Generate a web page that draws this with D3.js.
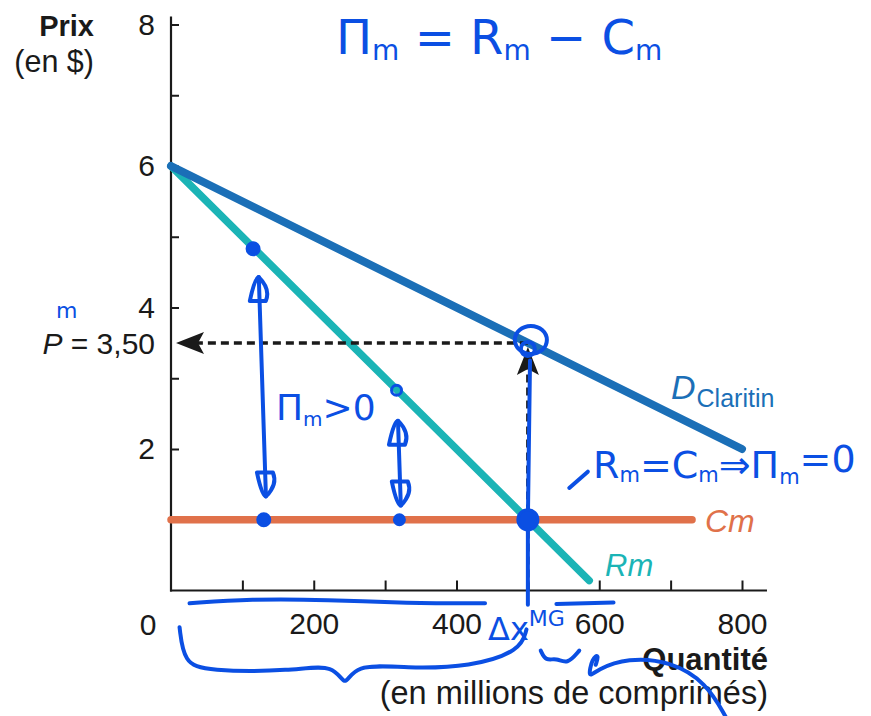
<!DOCTYPE html>
<html>
<head>
<meta charset="utf-8">
<script src="https://cdn.jsdelivr.net/npm/d3@7"></script>
<style>
  html, body { margin: 0; padding: 0; background: #fff; }
  svg { display: block; }
  text { font-family: "Liberation Sans", Arial, Helvetica, sans-serif; }
</style>
</head>
<body>
<svg id="chart" width="871" height="716"></svg>
<script>
// ---- Data ----
const priceTicks = [1, 2, 3, 4, 5, 6, 7, 8];
const priceTickLabels = [2, 4, 6, 8];
const qtyTicks = [100, 200, 300, 400, 500, 600, 700, 800];
const qtyTickLabels = [200, 400, 600, 800];
const demand = [{ q: 0, p: 6 }, { q: 800, p: 2 }];           // D Claritin
const marginalRevenue = [{ q: 0, p: 6 }, { q: 586, p: 0.14 }]; // Rm
const marginalCost = [{ q: 0, p: 1 }, { q: 730, p: 1 }];       // Cm
const monopolyQ = 500;
const monopolyP = 3.5;

// ---- Setup ----
const svg = d3.select("#chart");
const x = d3.scaleLinear().domain([0, 800]).range([171, 742]);
const y = d3.scaleLinear().domain([0, 8]).range([590.5, 24.5]);
const blue = "#0b4fe3";

// Axes
const yAxis = d3.axisLeft(y).tickValues(priceTicks).tickSize(-8).tickPadding(16)
  .tickFormat(d => priceTickLabels.includes(d) ? d : "");
const gy = svg.append("g").attr("transform", `translate(${x(0)},0)`).call(yAxis);
gy.select(".domain").remove();
gy.selectAll(".tick line").attr("stroke", "#1a1a1a").attr("stroke-width", 2);
gy.selectAll(".tick text").attr("font-size", 30).attr("fill", "#1a1a1a")
  .style("font-family", '"Liberation Sans", Arial, sans-serif');

const xAxis = d3.axisBottom(x).tickValues(qtyTicks).tickSize(-10).tickPadding(22)
  .tickFormat(d => qtyTickLabels.includes(d) ? d : "");
const gx = svg.append("g").attr("transform", `translate(0,${y(0)})`).call(xAxis);
gx.select(".domain").remove();
gx.selectAll(".tick line").attr("stroke", "#1a1a1a").attr("stroke-width", 2);
gx.selectAll(".tick text").attr("font-size", 30).attr("fill", "#1a1a1a")
  .style("font-family", '"Liberation Sans", Arial, sans-serif');

// Axis lines
svg.append("line").attr("x1", x(0)).attr("x2", x(0)).attr("y1", y(0) + 1).attr("y2", y(8) - 8)
  .attr("stroke", "#1a1a1a").attr("stroke-width", 2.2);
svg.append("line").attr("x1", x(0) - 1).attr("x2", x(835)).attr("y1", y(0)).attr("y2", y(0))
  .attr("stroke", "#1a1a1a").attr("stroke-width", 2.2);

// Origin label
svg.append("text").attr("x", x(0) - 23).attr("y", y(0) + 44).attr("text-anchor", "middle")
  .attr("font-size", 30).attr("fill", "#1a1a1a").text("0");

// Axis titles
svg.append("text").attr("x", 94).attr("y", 36).attr("text-anchor", "end")
  .attr("font-size", 29).attr("font-weight", "bold").attr("fill", "#1a1a1a").text("Prix");
svg.append("text").attr("x", 94).attr("y", 72).attr("text-anchor", "end")
  .attr("font-size", 30.5).attr("fill", "#1a1a1a").text("(en $)");
svg.append("text").attr("x", 768).attr("y", 670).attr("text-anchor", "end")
  .attr("font-size", 31).attr("font-weight", "bold").attr("fill", "#1a1a1a").text("Quantité");
svg.append("text").attr("x", 768).attr("y", 704).attr("text-anchor", "end")
  .attr("font-size", 32.5).attr("fill", "#1a1a1a").text("(en millions de comprimés)");

// P = 3,50 label
const pl = svg.append("text").attr("x", 155).attr("y", y(monopolyP) + 11).attr("text-anchor", "end")
  .attr("font-size", 30).attr("fill", "#1a1a1a");
pl.append("tspan").attr("font-style", "italic").text("P");
pl.append("tspan").text(" = 3,50");

// ---- Curves ----
const line = d3.line().x(d => x(d.q)).y(d => y(d.p));
svg.append("path").datum(marginalCost).attr("d", line).attr("fill", "none")
  .attr("stroke", "#e0714a").attr("stroke-width", 7.5).attr("stroke-linecap", "round");
svg.append("path").datum(marginalRevenue).attr("d", line).attr("fill", "none")
  .attr("stroke", "#1bb4b6").attr("stroke-width", 7.5).attr("stroke-linecap", "round");
svg.append("path").datum(demand).attr("d", line).attr("fill", "none")
  .attr("stroke", "#1b6fb7").attr("stroke-width", 8).attr("stroke-linecap", "round");

// Curve labels
const dl = svg.append("text").attr("x", 671).attr("y", 399).attr("fill", "#1b6fb7");
dl.append("tspan").attr("font-size", 34).attr("font-style", "italic").text("D");
dl.append("tspan").attr("font-size", 25).attr("dy", 8).attr("dx", 1).text("Claritin");
svg.append("text").attr("x", 705).attr("y", 532).attr("font-size", 32).attr("font-style", "italic")
  .attr("fill", "#e0714a").text("Cm");
svg.append("text").attr("x", 605).attr("y", 576).attr("font-size", 31).attr("font-style", "italic")
  .attr("fill", "#1bb4b6").text("Rm");

// ---- Dashed guides with arrows ----
const dashColor = "#1a1a1a";
svg.append("line").attr("x1", x(monopolyQ)).attr("x2", x(0) + 26).attr("y1", y(monopolyP)).attr("y2", y(monopolyP))
  .attr("stroke", dashColor).attr("stroke-width", 3.5).attr("stroke-dasharray", "8,5");
svg.append("path")
  .attr("d", `M${x(0) + 5},${y(monopolyP)} L${x(0) + 33},${y(monopolyP) - 11} L${x(0) + 27},${y(monopolyP)} L${x(0) + 33},${y(monopolyP) + 11} Z`)
  .attr("fill", dashColor);
svg.append("line").attr("x1", x(monopolyQ)).attr("x2", x(monopolyQ)).attr("y1", y(0)).attr("y2", y(monopolyP) + 26)
  .attr("stroke", dashColor).attr("stroke-width", 3.5).attr("stroke-dasharray", "8,5");
svg.append("path")
  .attr("d", `M${x(monopolyQ)},${y(monopolyP) + 4} L${x(monopolyQ) - 11},${y(monopolyP) + 32} L${x(monopolyQ)},${y(monopolyP) + 26} L${x(monopolyQ) + 11},${y(monopolyP) + 32} Z`)
  .attr("fill", dashColor);

// ---- Handwritten annotations (blue ink) ----
const ink = svg.append("g").attr("fill", "none").attr("stroke", blue).attr("stroke-width", 4)
  .attr("stroke-linecap", "round").attr("stroke-linejoin", "round");
const curve = d3.line().x(d => x(d[0])).y(d => y(d[1])).curve(d3.curveBasis);
const straight = d3.line().x(d => x(d[0])).y(d => y(d[1]));

// Top formula
const f = svg.append("text").attr("x", 336).attr("y", 54).attr("fill", blue)
  .attr("font-size", 48).style("font-family", '"DejaVu Sans", sans-serif');
f.append("tspan").text("Π");
f.append("tspan").attr("font-size", 28).attr("dy", 6).text("m");
f.append("tspan").attr("dy", -6).text(" = R");
f.append("tspan").attr("font-size", 28).attr("dy", 6).text("m");
f.append("tspan").attr("dy", -6).text(" − C");
f.append("tspan").attr("font-size", 28).attr("dy", 6).text("m");

// m above P
svg.append("text").attr("x", 56).attr("y", 318).attr("fill", blue).attr("font-size", 22)
  .style("font-family", '"DejaVu Sans", sans-serif').text("m");

// Dots on curves
const dots = [[115, 4.83, 6], [130, 1, 6], [316, 2.83, 5], [320, 1, 5], [500, 1, 10]];
svg.append("g").selectAll("circle").data(dots).join("circle")
  .attr("cx", d => x(d[0])).attr("cy", d => y(d[1])).attr("r", d => d[2])
  .attr("fill", (d, i) => i === 2 ? "none" : blue).attr("stroke", blue).attr("stroke-width", 3);

// Double arrows
function dblArrow(q1, p1, q2, p2) {
  ink.append("path").attr("d", straight([[q1, p1], [q2, p2]]));
  const x1 = x(q1), y1 = y(p1), x2 = x(q2), y2 = y(p2);
  ink.append("path").attr("d", `M${x1 - 9},${y1 + 24} Q${x1 - 4},${y1} ${x1},${y1} Q${x1 + 12},${y1 + 12} ${x1 + 7},${y1 + 24} Z`);
  ink.append("path").attr("d", `M${x2 - 9},${y2 - 24} Q${x2 - 4},${y2} ${x2},${y2} Q${x2 + 12},${y2 - 12} ${x2 + 7},${y2 - 24} Z`);
}
dblArrow(123, 4.43, 133, 1.33);
dblArrow(318, 2.4, 322, 1.2);

// Πm>0 label
const pm = svg.append("text").attr("x", 276).attr("y", 420).attr("fill", blue).attr("font-size", 36)
  .style("font-family", '"DejaVu Sans", sans-serif');
pm.append("tspan").text("Π");
pm.append("tspan").attr("font-size", 20).attr("dy", 6).text("m");
pm.append("tspan").attr("dy", -6).text(">0");

// Circle at monopoly point & vertical stroke
ink.append("ellipse").attr("cx", x(monopolyQ) + 3).attr("cy", y(monopolyP) - 3).attr("rx", 16).attr("ry", 14);
ink.append("circle").attr("cx", x(monopolyQ)).attr("cy", y(monopolyP) + 6).attr("r", 7);
ink.append("path").attr("d", straight([[monopolyQ + 3, 3.25], [monopolyQ, 1], [monopolyQ, -0.2]]));

// small tick stroke
ink.append("path").attr("d", straight([[558, 1.45], [584, 1.68]]));

// Rm = Cm => Πm = 0
const rc = svg.append("text").attr("x", 593).attr("y", 478).attr("fill", blue).attr("font-size", 38)
  .style("font-family", '"DejaVu Sans", sans-serif');
rc.append("tspan").text("R");
rc.append("tspan").attr("font-size", 21).attr("dy", 4).text("m");
rc.append("tspan").attr("dy", -4).text("=C");
rc.append("tspan").attr("font-size", 21).attr("dy", 4).text("m");
rc.append("tspan").attr("dy", -4).text("⇒Π");
rc.append("tspan").attr("font-size", 21).attr("dy", 6).text("m");
rc.append("tspan").attr("dy", -12).text("=0");

// Under-axis marks
ink.append("path").attr("d", curve([[26, -0.18], [110, -0.12], [220, -0.13], [330, -0.18], [440, -0.18]]));
ink.append("path").attr("d", curve([[540, -0.19], [620, -0.17]]));
ink.append("path").attr("d", curve([[12, -0.52], [18, -1.02], [50, -1.14], [170, -1.14], [230, -1.03], [244, -1.4], [256, -1.03], [330, -1.1], [420, -1.08], [490, -0.85], [498, -0.55]]));
const dx = svg.append("text").attr("x", 488).attr("y", 640).attr("fill", blue).attr("font-size", 32)
  .style("font-family", '"DejaVu Sans", sans-serif');
dx.append("tspan").text("Δx");
dx.append("tspan").attr("font-size", 22).attr("dy", -14).text("MG");
ink.append("path").attr("d", curve([[518, -0.85], [525, -1.0], [540, -0.95], [555, -1.05], [572, -0.85]]));
ink.append("path").attr("d", curve([[595, -1.05], [600, -0.9], [590, -0.95], [584, -1.25], [596, -1.12], [640, -0.95], [700, -1.0], [750, -1.3], [778, -1.8]]));
</script>
</body>
</html>
